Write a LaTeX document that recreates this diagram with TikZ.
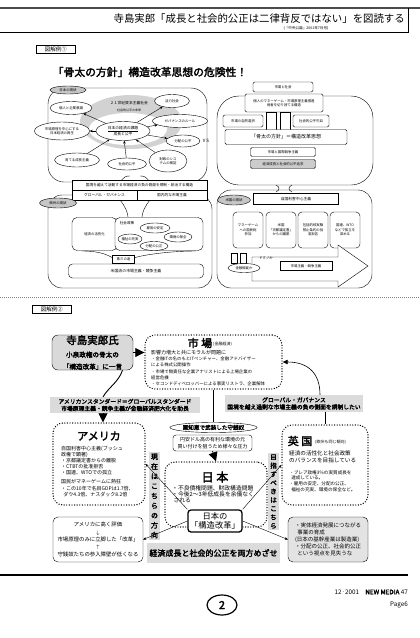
\documentclass[tikz,border=0pt]{standalone}
\usepackage{fontspec}
\setmainfont{Noto Sans CJK JP}[AutoFakeBold=2.5]
\usetikzlibrary{shapes.geometric,arrows.meta,positioning}
\newcommand{\fsz}[2]{\fontsize{#1}{#2}\selectfont}
\tikzset{
  ov/.style={draw, ellipse, fill=white, inner sep=0pt, align=center, font=\fsz{3.4}{4.2}},
  gov/.style={ov, fill=gray!45},
  bx/.style={draw, fill=white, rounded corners=1.5pt, inner sep=0pt, align=center, font=\fsz{3.4}{4.4}},
  dotbox/.style={draw, line width=1.4pt, dash pattern=on 0pt off 2.6pt, line cap=round, rounded corners=10pt, inner sep=0pt},
  band/.style={fill=gray!28, inner sep=0pt, align=center},
  tri/.style={-{Triangle[length=9pt,width=9pt]}, line width=0.8pt},
  stri/.style={-{Triangle[length=5pt,width=4.5pt]}, line width=0.6pt},
  sarr/.style={-{Stealth[length=3pt,width=2.5pt]}, line width=0.4pt},
}
\begin{document}
\begin{tikzpicture}[x=1pt,y=-1pt]
\useasboundingbox (0,0) rectangle (420,638);
\fill[white] (0,0) rectangle (420,638);

% header
\draw[line width=1.6pt, gray!60!black] (0,8) -- (420,8);
\draw[line width=0.5pt] (0,32) -- (408,32) -- (408,8);
\node[anchor=east, font=\fsz{10.4}{12}, inner sep=0pt] (title) at (405,19) {寺島実郎「成長と社会的公正は二律背反ではない」を図読する};
\node[font=\fsz{3.6}{4}, inner sep=0pt] (src) at (306,28) {(『中央公論』2001年7月号)};
\node[draw, font=\fsz{5.5}{6}, minimum width=39, minimum height=8, inner sep=0pt] (fig1) at (56,49) {図解例①};

% ---- figure 1
\node[font=\fsz{10.8}{12}\bfseries, inner sep=0pt] (ttl1) at (150,72) {「骨太の方針」構造改革思想の危険性！};

\draw[rounded corners=16pt] (48,88) rectangle (207,182);
\draw[rounded corners=14pt] (48,195) rectangle (212,288);
\draw[rounded corners=22pt] (217,96) rectangle (373,185);
\draw[rounded corners=14pt] (217,190) rectangle (372,288);

% japan now
\node[ellipse, fill=gray!35, minimum width=102, minimum height=54, inner sep=0pt] (ring) at (131,122) {};
\node[ellipse, fill=white, minimum width=78, minimum height=32, inner sep=0pt] (ringin) at (128,129) {};
\node[font=\fsz{3.8}{4.5}, inner sep=0pt] (t21) at (129,103) {２１世紀資本主義社会};
\node[font=\fsz{3}{3.5}, inner sep=0pt] (t21b) at (129,110) {社会的公平の未来};
\node[ov, minimum width=54, minimum height=19, font=\fsz{3.8}{5}] (core) at (123,131) {\underline{日本の経済の課題}\\成長と公平};
\node[gov, minimum width=36, minimum height=8] (jpnow) at (68,90) {日本の現状};
\node[ov, minimum width=42, minimum height=13] (ea1) at (71,108) {個人と企業意識};
\node[ov, minimum width=55, minimum height=18] (ea2) at (62,131) {市場原理を中心にする\\日本経済の再生};
\node[ov, minimum width=35, minimum height=13] (eb1) at (172,101) {活力社会};
\node[ov, minimum width=55, minimum height=13] (eb2) at (180,121) {ガバナンスのルール};
\node[ov, minimum width=34, minimum height=12] (eb3) at (183,141) {分配の公平};
\node[ov, minimum width=45, minimum height=14] (ec1) at (77,160) {育てる成長主義};
\node[ov, minimum width=39, minimum height=12] (ec2) at (127,164) {社会的公平};
\node[ov, minimum width=38, minimum height=22] (ec3) at (168,161) {財政のシス\\テムの検証};
\node[font=\fsz{4.5}{5}, inner sep=0pt] (vs) at (206,141) {V S};
\draw[sarr] (core) -- (ea2);
\draw[sarr] (core) -- (ea1);
\draw[sarr] (core) -- (eb1);
\draw[sarr] (core) -- (eb2);
\draw[sarr] (core) -- (eb3);
\draw[sarr] (ec1) -- (core);
\draw[sarr] (ec2) -- (core);
\draw[sarr] (ec3) -- (core);

% honebuto
\node[bx, minimum width=60, minimum height=10] (mkt) at (283,87) {市場と社会};
\node[bx, minimum width=78, minimum height=18] (mgame) at (284,103) {個人のマネーゲーム・市場原理主義推進\\弱者を切り捨てる構造};
\draw (266,112) rectangle (276,130);
\draw (280,112) rectangle (290,130);
\node[bx, minimum width=40, minimum height=12] (natsel) at (243,121) {市場の自然選択};
\node[bx, minimum width=36, minimum height=12] (unfair) at (311,121) {社会的公平欠如};
\node[bx, minimum width=122, minimum height=15, font=\fsz{5}{6}] (hbt) at (286,137) {「骨太の方針」＝構造改革思想};
\node[bx, minimum width=65, minimum height=9] (kyoso) at (283,152) {市場と国際競争主義};
\node[bx, fill=gray!40, minimum width=65, minimum height=9] (kouhei) at (283,164) {経済成長と社会的公平追求};

% bridges
\draw (120,182) .. controls +(5,-6) and +(-4,0) .. (130,176);
\draw (150,182) .. controls +(-5,-6) and +(4,0) .. (140,176);
\draw (120,200) .. controls +(5,6) and +(0,-4) .. (128,217);
\draw (150,200) .. controls +(-5,6) and +(0,-4) .. (142,217);
\draw (276,185) .. controls +(4,2) and +(4,-2) .. (276,192);
\draw (292,185) .. controls +(-4,2) and +(-4,-2) .. (292,192);

% borders
\node[bx, rounded corners=0pt, minimum width=135, minimum height=10, font=\fsz{3.7}{4.4}] (kokkyo) at (139.5,185) {国境を越えて活動する市場経済の負の側面を規制・統治する構造};
\node[bx, rounded corners=0pt, minimum width=65, minimum height=10, font=\fsz{3.7}{4.4}] (gg) at (104.5,195) {グローバル・ガバナンス};
\node[bx, rounded corners=0pt, minimum width=70, minimum height=10, font=\fsz{3.7}{4.4}] (gs) at (172,195) {国内的な市場主義};
\node[gov, minimum width=37, minimum height=10] (eunow) at (58,203) {欧州の現状};

% europe
\node[bx, rounded corners=5pt, minimum width=45, minimum height=33] (kasseika) at (94.5,234) {経済の活性化};
\node[bx, rounded corners=5pt, minimum width=88, minimum height=33] (seisaku) at (159,234) {};
\node[font=\fsz{3.6}{4}, inner sep=0pt] (spl) at (127,223) {社会政策};
\node[ov, minimum width=30, minimum height=10] (koyo) at (155,228) {雇用の安定};
\node[ov, minimum width=24, minimum height=10] (fukushi) at (130,239) {福祉の充実};
\node[ov, minimum width=28, minimum height=10] (kankyo) at (178,237) {環境の保全};
\node[ov, minimum width=28, minimum height=9] (bunpai) at (154,246) {分配の公正};
\draw (82,251) .. controls +(20,0) and +(-4,-2) .. (113,258);
\draw (196,251) .. controls +(-30,0) and +(4,-2) .. (134,258);
\node[bx, rounded corners=0pt, minimum width=22, minimum height=8] (third) at (123.5,259) {第三の道};
\node[bx, rounded corners=4pt, minimum width=135, minimum height=14, font=\fsz{3.9}{4.5}] (usstyle) at (136,271) {米国流の市場主義・競争主義};

% america
\node[gov, minimum width=33, minimum height=10] (usnow) at (234,200) {米国の現状};
\node[bx, rounded corners=0pt, minimum width=85, minimum height=11, font=\fsz{3.8}{4.4}] (selfint) at (296,199) {自国利害中心主義};
\node[bx, rounded corners=4pt, minimum width=30, minimum height=36] (q1) at (248,230) {マネーゲーム\\への国民総\\参加};
\node[bx, rounded corners=4pt, minimum width=30, minimum height=36] (q2) at (281,230) {米国\\「京都議定書」\\からの離脱};
\node[bx, rounded corners=4pt, minimum width=30, minimum height=36] (q3) at (313,230) {包括的核実験\\禁止条約の批\\准拒否};
\node[bx, rounded corners=4pt, minimum width=30, minimum height=36] (q4) at (345,230) {国連、WTO\\などで孤立を\\深める};
\draw[fill=white] (252,257) -- (338,257) -- (338,245) -- (368,266) -- (338,287) -- (338,281) -- (252,281) -- cycle;
\draw (231,253) rectangle (237,263);
\draw (240,253) rectangle (246,263);
\node[ov, minimum width=32, minimum height=9] (bankrupt) at (244,268) {金融破綻か};
\node[font=\fsz{3.4}{4}, inner sep=0pt] (domino) at (266,258) {ドミノか};
\node[bx, rounded corners=0pt, minimum width=52, minimum height=9] (mktcomp) at (306,266) {市場主義・競争主義};

% ---- figure 2
\draw[gray, dash pattern=on 1pt off 1pt] (0,297) -- (420,297);
\node[draw, font=\fsz{5.5}{6}, minimum width=39, minimum height=8, inner sep=0pt] (fig2) at (52,309) {図解例②};

\node[draw, fill=gray!30, rounded corners=6pt, minimum width=81, minimum height=35, align=center, inner sep=0pt] (tera) at (92.5,352.5)
  {{\fsz{10.5}{11}\bfseries 寺島実郎氏}\\[1pt]{\fsz{6.6}{8}\bfseries 小泉政権の骨太の}\\{\fsz{6.6}{8}\bfseries「構造改革」に一言}};

\node[dotbox, minimum width=137, minimum height=54] (market) at (213.5,362) {};
\node[font=\fsz{11}{12}\bfseries, inner sep=0pt] (mtitle) at (200,343) {市 場};
\node[font=\fsz{4}{5}, inner sep=0pt, anchor=west] (mtsub) at (213,344) {(金融経済)};
\node[font=\fsz{4.4}{6.2}, inner sep=0pt, anchor=north west, align=left] (mtext) at (151,350)
  {{\fsz{5}{6.2}影響力増大と共にモラルが問題に}\\・金融ITの名のもとITベンチャー、金融アドバイザー\\による株式公開操作\\・市場で無責任な企業アナリストによる上場企業の\\経営危機\\・セコンドディベロッパーによる事実リストラ、企業解体};

\node[band, minimum width=150, minimum height=16, font=\fsz{5.8}{7}\bfseries] (amst) at (125,405)
  {アメリカンスタンダード＝グローバルスタンダード\\市場原理主義・競争主義が金融経済肥大化を助長};
\node[band, minimum width=138, minimum height=17, font=\fsz{5.8}{7}\bfseries] (glgv) at (294,403.5)
  {グローバル・ガバナンス\\国境を越え過剰な市場主義の負の側面を規制したい};

\node[dotbox, minimum width=92, minimum height=82] (amer) at (99,464) {};
\node[font=\fsz{11}{12}\bfseries, inner sep=0pt] (atitle) at (99,436) {アメリカ};
\node[font=\fsz{5}{6.1}, inner sep=0pt, anchor=north west, align=left] (atext) at (61,446)
  {自国利害中心主義(ブッシュ\\政権で顕著)\\・京都議定書からの離脱\\・CTBTの批准拒否\\・国連、WTOでの孤立\\[3pt]国民がマネーゲームに熱狂\\・この10年で名目GDPは1.7倍、\\\ \ ダウ4.3倍、ナスダック8.2倍};

\node[draw, ellipse, fill=white, minimum width=75, minimum height=10, inner sep=0pt, font=\fsz{5.6}{6}\bfseries] (akuchi) at (213.5,427.5) {悪知恵で武装した守銭奴};
\node[draw, fill=white, rounded corners=3pt, minimum width=79, minimum height=16, inner sep=0pt, align=center, font=\fsz{5}{6.3}] (endoru) at (212.5,443)
  {円安ドル高の有利な環境の元\\買い付けを狙うため様々な圧力};

\node[dotbox, minimum width=102, minimum height=65] (japan) at (216,494.5) {};
\node[font=\fsz{12}{13}\bfseries, inner sep=0pt] (jtitle) at (215,477) {日\ 本};
\node[font=\fsz{5.8}{6.3}, inner sep=0pt, anchor=north west, align=left] (jtext) at (172,485)
  {・不良債権問題、財政構造問題\\・今後2〜3年低成長を余儀なく\\\ される};

\node[dotbox, minimum width=86, minimum height=80] (uk) at (325,465) {};
\node[font=\fsz{11}{12}\bfseries, inner sep=0pt] (ukt) at (300,441) {英\ 国};
\node[font=\fsz{4}{5}, inner sep=0pt, anchor=west] (uksub) at (315,442) {(欧州も同じ傾向)};
\node[font=\fsz{5.6}{6.5}, inner sep=0pt, anchor=north west, align=left] (uktext) at (289,451)
  {経済の活性化と社会政策\\のバランスを目指している};
\node[font=\fsz{4.6}{5.8}, inner sep=0pt, anchor=north west, align=left] (uktext2) at (289,470)
  {・ブレア政権3％の実質成長を\\\ \ 達成している。\\・雇用の安定、分配の公正、\\\ \ 福祉の充実、環境の保全など。};

\node[draw, fill=gray!22, rounded corners=5pt, minimum width=80, minimum height=45, inner sep=0pt, align=left, font=\fsz{5.5}{6.9}] (ukbelow) at (328,539.5)
  {・実体経済発展につながる\\\ \ 事業の育成\\(日本の基幹産業は製造業)\\・分配の公正、社会的公正\\\ \ という視点を見失うな};

\node[draw, fill=white, rounded corners=5pt, minimum width=90, minimum height=45, inner sep=0pt, align=center, font=\fsz{5.4}{7.3}] (amhi) at (98,539.5)
  {アメリカに高く評価\\$\downarrow$\\市場原理のみに立脚した「改革」\\$\uparrow$\\守銭奴たちの参入障壁が低くなる};

\node[band, minimum width=11, minimum height=88, font=\fsz{7}{9.8}\bfseries] (genzai) at (154.5,496)
  {現\\在\\は\\こ\\ち\\ら\\の\\方\\向};
\node[band, minimum width=11, minimum height=77, font=\fsz{6.5}{8.6}\bfseries] (mezasu) at (273.5,491.5)
  {目\\指\\す\\べ\\き\\は\\こ\\ち\\ら};
\node[band, minimum width=133, minimum height=20, font=\fsz{8}{9}\bfseries] (both) at (213.5,553)
  {経済成長と社会的公正を両方めざせ};

\node[draw, fill=white, line width=1.3pt, rounded corners=3pt, minimum width=54, minimum height=22, inner sep=0pt, align=center, font=\fsz{8.3}{9.5}] (kozo) at (215,521)
  {日本の\\「構造改革」};

% connectors
\draw[tri] (tera.east) -- (tera.east -| market.west);
\draw[line width=0.9pt] ([xshift=30pt]tera.south) .. controls +(-4,12) and +(6,-10) .. ([xshift=-22pt]amst.north);
\draw[tri] (amst.south -| 103,0) -- (amer.north -| 103,0);
\draw[line width=0.7pt] (market.south) -- (akuchi.north);
\draw[tri] (endoru.south) -- (japan.north);
\draw[stri] ([xshift=26pt]glgv.north) .. controls +(0,-22) and +(25,0) .. (market.east);
\draw[line width=0.7pt] (uk.north |- glgv.south) -- (uk.north);
\draw[sarr] (kozo.north west) -- (amer.east);
\draw[sarr] (kozo.west) -- (amhi.east);
\draw[sarr] (kozo.north east) -- (uk.west);
\draw[sarr] (kozo.east) -- (ukbelow.west);

% footer
\draw[line width=2.4pt] (0,575) -- (408,575);
\node[anchor=east, inner sep=0pt, font=\fsz{6.3}{7}] (issue) at (408,592) {12·2001\quad {\bfseries NEW MEDIA} 47};
\node[draw, ellipse, line width=1.2pt, minimum width=30, minimum height=20, inner sep=0pt, font=\fsz{11}{12}\bfseries] (pgno) at (222,605) {2};
\node[anchor=east, inner sep=0pt, font=\fsz{6.3}{7}] (pagel) at (408,605) {Page6};
\end{tikzpicture}
\end{document}
